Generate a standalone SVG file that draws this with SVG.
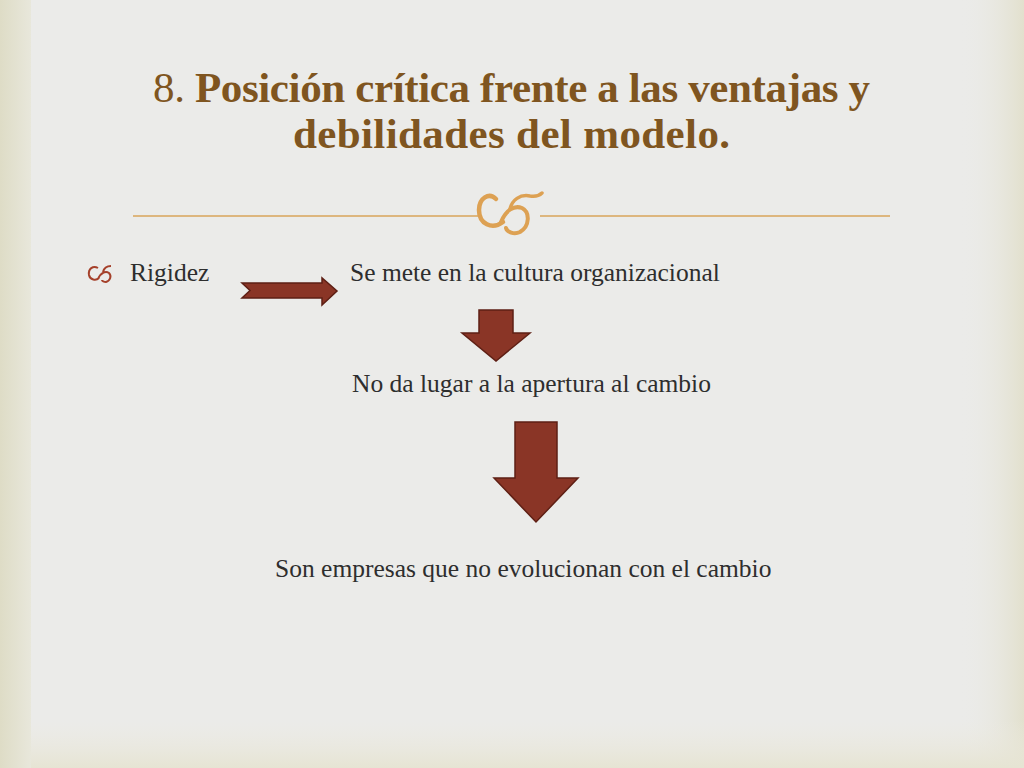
<svg xmlns="http://www.w3.org/2000/svg" width="1024" height="768" viewBox="0 0 1024 768">
<defs>
<style>
.t{font-family:"Liberation Serif","Times New Roman",serif;font-size:25.5px;fill:#2e2e2e}
.h{font-family:"Liberation Serif","Times New Roman",serif;font-size:43px;fill:#7f5520}
.arr{fill:#8a3526;stroke:#5e1f14;stroke-width:1.5;stroke-linejoin:miter}
.rule{stroke:#d8a55a;stroke-width:1.5}
.orn{fill:none;stroke:#dda153;stroke-linecap:round}
</style>
<linearGradient id="lg" x1="0" y1="0" x2="1" y2="0">
<stop offset="0" stop-color="#dedcc6"/><stop offset="1" stop-color="#e8e7db"/>
</linearGradient>
<linearGradient id="rg" x1="0" y1="0" x2="1" y2="0">
<stop offset="0" stop-color="#ebebe8" stop-opacity="0"/><stop offset="1" stop-color="#e2e0cd"/>
</linearGradient>
<linearGradient id="bg" x1="0" y1="0" x2="0" y2="1">
<stop offset="0" stop-color="#eceae0" stop-opacity="0"/><stop offset="1" stop-color="#e6e4d3"/>
</linearGradient>
</defs>
<rect width="1024" height="768" fill="#ebebe9"/>
<rect x="960" y="0" width="64" height="768" fill="url(#rg)"/>
<rect x="0" y="720" width="1024" height="48" fill="url(#bg)"/>
<rect x="0" y="0" width="31" height="768" fill="url(#lg)"/>

<g id="title">
<text class="h" x="153" y="102" textLength="717" lengthAdjust="spacing"><tspan>8. </tspan><tspan font-weight="bold">Posición crítica frente a las ventajas y</tspan></text>
<text class="h" x="293" y="148" textLength="437" lengthAdjust="spacing" font-weight="bold">debilidades del modelo.</text>
</g>

<g id="rule">
<line class="rule" x1="133" y1="216" x2="478" y2="216"/>
<line class="rule" x1="540" y1="216" x2="890" y2="216"/>
<path class="orn" stroke-width="4.5" d="M496 199 C489 192 479 198 479 210 C479 224 492 230 503 222"/>
<path class="orn" stroke-width="4" d="M501 222 C506 210 514 205 522 208 C530 212 530 226 520 232 C514 235 507 232 506 228"/>
<path class="orn" stroke-width="3.5" d="M510 209 C512 200 520 194 530 196 C536 197 540 195 542 193"/>
</g>

<g id="bullet">
<path fill="none" stroke="#a5402a" stroke-width="2" d="M98 268 C93 265 88 269 89 275 C90 280 96 281 99 278 M98 279 C101 272 106 271 109 273 C112 276 110 281 106 282 C104 282 102 281 102 280 M103 272 C104 268 107 266 111 266"/>
</g>

<g id="n1"><text class="t" x="130" y="281">Rigidez</text></g>
<g id="n2"><text class="t" x="350" y="281">Se mete en la cultura organizacional</text></g>
<g id="n3"><text class="t" x="352" y="392">No da lugar a la apertura al cambio</text></g>
<g id="n4"><text class="t" x="275" y="577">Son empresas que no evolucionan con el cambio</text></g>

<g id="connectors">
<polygon class="arr" points="242,283 322,283 322,278 337,291 322,305 322,298 242,298 250,290.5"/>
<polygon class="arr" points="479,310 513,310 513,333 530,333 496,361 462,333 479,333"/>
<polygon class="arr" points="515,422 557,422 557,478 578,478 536,522 494,478 515,478"/>
</g>
</svg>
